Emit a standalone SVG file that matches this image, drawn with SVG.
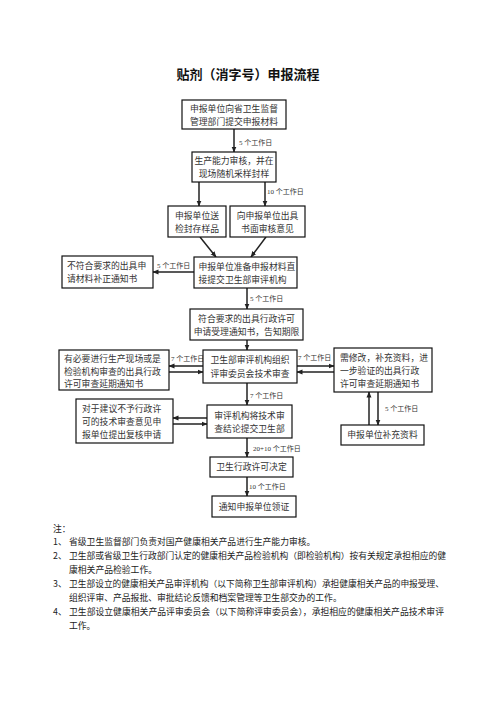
<svg xmlns="http://www.w3.org/2000/svg" width="496" height="702" viewBox="0 0 496 702">
<style>
.bx{fill:#fff;stroke:#111;stroke-width:1.2}
.t{font-family:"Noto Sans CJK SC","Noto Sans",sans-serif;font-size:8.8px;fill:#333}
.c{text-anchor:middle}
.lb{font-family:"Liberation Serif","Noto Sans CJK SC",serif;font-size:7px;fill:#333}
.ln{stroke:#222;stroke-width:1.5;fill:none}
.n{font-family:"Noto Sans CJK SC","Noto Sans",sans-serif;font-size:8.8px;fill:#222}
</style>
<defs>
<marker id="ah" markerUnits="userSpaceOnUse" markerWidth="6" markerHeight="6" refX="5.5" refY="3" orient="auto"><path d="M0,0.5 L6,3 L0,5.5 z" fill="#222"/></marker>
</defs>
<text x="248" y="79" text-anchor="middle" font-family="Noto Sans CJK SC,sans-serif" font-size="13" font-weight="bold" fill="#111">贴剂（消字号）申报流程</text>

<g id="connectors">
<line class="ln" x1="234" y1="129" x2="234" y2="152" marker-end="url(#ah)"/>
<text class="lb" x="239" y="145">5 个工作日</text>
<line class="ln" x1="199" y1="182" x2="199" y2="206" marker-end="url(#ah)"/>
<line class="ln" x1="265" y1="182" x2="265" y2="206" marker-end="url(#ah)"/>
<text class="lb" x="267" y="194">10 个工作日</text>
<line class="ln" x1="200" y1="237" x2="216" y2="257" marker-end="url(#ah)"/>
<line class="ln" x1="266" y1="237" x2="251" y2="257" marker-end="url(#ah)"/>
<line class="ln" x1="194" y1="272" x2="153" y2="272" marker-end="url(#ah)"/>
<text class="lb" x="157" y="268">5 个工作日</text>
<line class="ln" x1="247" y1="288" x2="247" y2="309" marker-end="url(#ah)"/>
<text class="lb" x="250" y="301">5 个工作日</text>
<line class="ln" x1="247" y1="340" x2="247" y2="350" marker-end="url(#ah)"/>
<line class="ln" x1="203" y1="366" x2="169" y2="366" marker-end="url(#ah)"/>
<line class="ln" x1="169" y1="372" x2="203" y2="372" marker-end="url(#ah)"/>
<text class="lb" x="171" y="361">7 个工作日</text>
<line class="ln" x1="297" y1="366" x2="334" y2="366" marker-end="url(#ah)"/>
<line class="ln" x1="334" y1="372" x2="297" y2="372" marker-end="url(#ah)"/>
<text class="lb" x="298" y="360">7 个工作日</text>
<line class="ln" x1="247" y1="383" x2="247" y2="405" marker-end="url(#ah)"/>
<text class="lb" x="250" y="398">7 个工作日</text>
<line class="ln" x1="207" y1="418" x2="173" y2="418" marker-end="url(#ah)"/>
<line class="ln" x1="173" y1="424" x2="207" y2="424" marker-end="url(#ah)"/>
<line class="ln" x1="369" y1="425" x2="369" y2="392" marker-end="url(#ah)"/>
<line class="ln" x1="378" y1="392" x2="378" y2="425" marker-end="url(#ah)"/>
<text class="lb" x="385" y="411">5 个工作日</text>
<line class="ln" x1="247" y1="438" x2="247" y2="457" marker-end="url(#ah)"/>
<text class="lb" x="253" y="451">20+10 个工作日</text>
<line class="ln" x1="247" y1="477" x2="247" y2="496" marker-end="url(#ah)"/>
<text class="lb" x="249" y="489">10 个工作日</text>
</g>

<g id="n1"><rect class="bx" x="182" y="100" width="104" height="29"/>
<text class="t c" x="234" y="112">申报单位向省卫生监督</text><text class="t c" x="234" y="125">管理部门提交申报材料</text></g>
<g id="n2"><rect class="bx" x="192" y="152" width="84" height="30"/>
<text class="t c" x="234" y="164">生产能力审核，并在</text><text class="t c" x="234" y="177">现场随机采样封样</text></g>
<g id="n3"><rect class="bx" x="168" y="206" width="58" height="31"/>
<text class="t c" x="197" y="219">申报单位送</text><text class="t c" x="197" y="232">检封存样品</text></g>
<g id="n4"><rect class="bx" x="230" y="206" width="75" height="31"/>
<text class="t c" x="267.5" y="219">向申报单位出具</text><text class="t c" x="267.5" y="232">书面审核意见</text></g>
<g id="n5"><rect class="bx" x="194" y="257" width="103" height="31"/>
<text class="t" x="198.5" y="270">申报单位准备申报材料直</text><text class="t" x="198.5" y="283">接提交卫生部审评机构</text></g>
<g id="n6"><rect class="bx" x="62" y="256" width="91" height="32"/>
<text class="t" x="67" y="269">不符合要求的出具申</text><text class="t" x="67" y="282">请材料补正通知书</text></g>
<g id="n7"><rect class="bx" x="190" y="309" width="113" height="31"/>
<text class="t c" x="246.5" y="322">符合要求的出具行政许可</text><text class="t c" x="246.5" y="335">申请受理通知书，告知期限</text></g>
<g id="n8"><rect class="bx" x="203" y="350" width="94" height="33"/>
<text class="t c" x="250" y="363">卫生部审评机构组织</text><text class="t c" x="250" y="377">评审委员会技术审查</text></g>
<g id="n9"><rect class="bx" x="59" y="350" width="110" height="40"/>
<text class="t" x="64" y="362">有必要进行生产现场或是</text><text class="t" x="64" y="374.5">检验机构审查的出具行政</text><text class="t" x="64" y="387">许可审查延期通知书</text></g>
<g id="n10"><rect class="bx" x="334" y="348" width="98" height="44"/>
<text class="t" x="340" y="361">需修改，补充资料，进</text><text class="t" x="340" y="374">一步验证的出具行政</text><text class="t" x="340" y="387">许可审查延期通知书</text></g>
<g id="n11"><rect class="bx" x="207" y="405" width="85" height="33"/>
<text class="t c" x="249.5" y="419">审评机构将技术审</text><text class="t c" x="249.5" y="432">查结论提交卫生部</text></g>
<g id="n12"><rect class="bx" x="76" y="399" width="97" height="44"/>
<text class="t" x="82" y="412">对于建议不予行政许</text><text class="t" x="82" y="425">可的技术审查意见申</text><text class="t" x="82" y="438">报单位提出复核申请</text></g>
<g id="n13"><rect class="bx" x="341" y="425" width="83" height="20"/>
<text class="t c" x="382.5" y="438">申报单位补充资料</text></g>
<g id="n14"><rect class="bx" x="210" y="457" width="83" height="20"/>
<text class="t c" x="251.5" y="470">卫生行政许可决定</text></g>
<g id="n15"><rect class="bx" x="212" y="496" width="84" height="21"/>
<text class="t c" x="254" y="510">通知申报单位领证</text></g>

<g id="notes">
<text class="n" x="53" y="532">注：</text>
<text class="n" x="53" y="545">1、</text><text class="n" x="69" y="545">省级卫生监督部门负责对国产健康相关产品进行生产能力审核。</text>
<text class="n" x="53" y="559">2、</text><text class="n" x="69" y="559" textLength="377" lengthAdjust="spacingAndGlyphs">卫生部或省级卫生行政部门认定的健康相关产品检验机构（即检验机构）按有关规定承担相应的健</text>
<text class="n" x="69" y="573">康相关产品检验工作。</text>
<text class="n" x="53" y="587">3、</text><text class="n" x="69" y="587" textLength="375" lengthAdjust="spacingAndGlyphs">卫生部设立的健康相关产品审评机构（以下简称卫生部审评机构）承担健康相关产品的申报受理、</text>
<text class="n" x="69" y="601">组织评审、产品报批、审批结论反馈和档案管理等卫生部交办的工作。</text>
<text class="n" x="53" y="615">4、</text><text class="n" x="69" y="615" textLength="375" lengthAdjust="spacingAndGlyphs">卫生部设立健康相关产品评审委员会（以下简称评审委员会），承担相应的健康相关产品技术审评</text>
<text class="n" x="69" y="629">工作。</text>
</g>
</svg>
